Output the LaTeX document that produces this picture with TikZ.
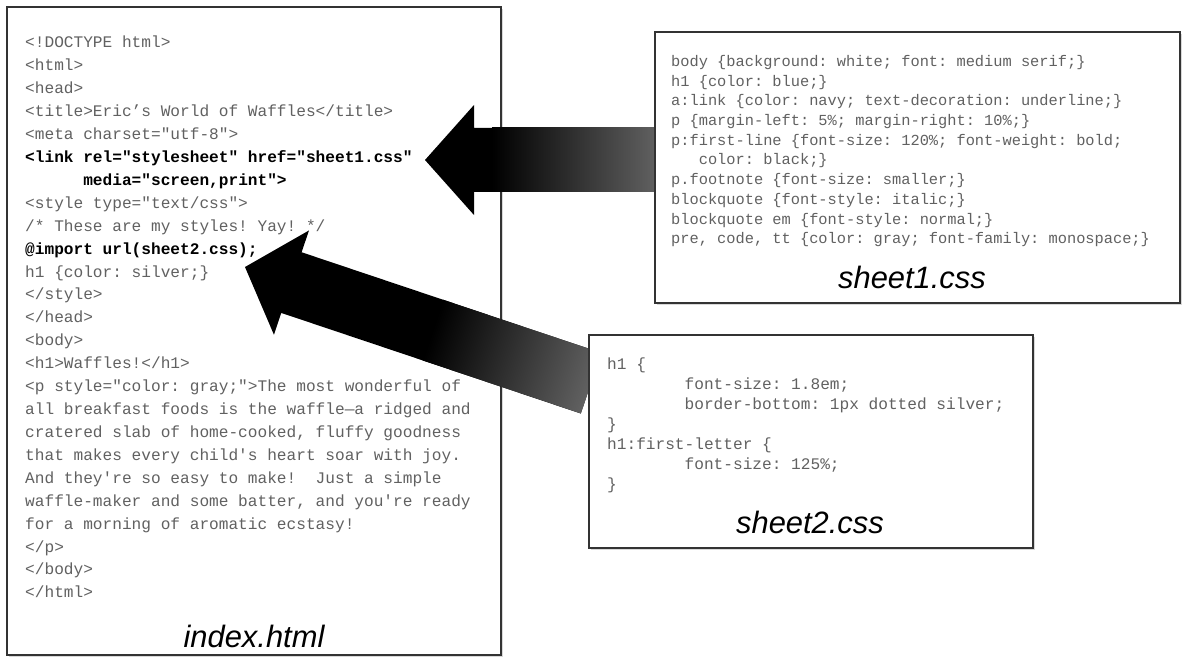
\documentclass[tikz,border=0pt]{standalone}
\usepackage{fontspec}
\setsansfont{Liberation Sans}
\setmonofont{Liberation Mono}
\usetikzlibrary{shadows}
\newcommand{\pad}[1]{\hspace*{#1\fontcharwd\font32}}

\begin{document}
\begin{tikzpicture}[x=1bp, y=-1bp,
		filebox/.style={draw=black!80, line width=1.5bp, fill=white, inner sep=0pt,
			drop shadow={shadow xshift=2bp, shadow yshift=-2bp, opacity=0.3}},
		codetext/.style={anchor=north west, inner sep=0pt, align=left, text=black!62},
		filename/.style={anchor=base, inner sep=0pt, font=\sffamily\itshape\fontsize{31}{31}\selectfont}]
			%%%%% START %%%%%
			
			\fill[white] (0,0) rectangle (1193,657);
			\useasboundingbox (0,0) rectangle (1193,657);
			
			% index.html
			\node[filebox, minimum width=494bp, minimum height=648bp] (indexbox) at (254,331) {};
			\node[codetext, font=\ttfamily\fontsize{16.2}{23}\selectfont] (indexcode) at (25,36) {%
				<!DOCTYPE html>\\
				<html>\\
				<head>\\
				<title>Eric’s World of Waffles</title>\\
				<meta charset="utf-8">\\
				{\color{black}\bfseries <link rel="stylesheet" href="sheet1.css"}\\
				{\color{black}\bfseries \pad{6}media="screen,print">}\\
				<style type="text/css">\\
				/* These are my styles! Yay! */\\
				{\color{black}\bfseries @import url(sheet2.css);}\\
				h1 \{color: silver;\}\\
				</style>\\
				</head>\\
				<body>\\
				<h1>Waffles!</h1>\\
				<p style="color: gray;">The most wonderful of\\
				all breakfast foods is the waffle—a ridged and\\
				cratered slab of home-cooked, fluffy goodness\\
				that makes every child's heart soar with joy.\\
				And they're so easy to make!\pad{2}Just a simple\\
				waffle-maker and some batter, and you're ready\\
				for a morning of aromatic ecstasy!\\
				</p>\\
				</body>\\
				</html>};
			\node[filename] (indextitle) at (254,647) {index.html};
			
			% big arrows
			\coordinate (tipone) at (425,160);
			\coordinate (tiptwo) at (245,267);
			
			\begin{scope}[transform canvas={shift={(tipone)}}]
				\fill[black] (0,0) -- (49,-55) -- (49,-32) -- (232,-32) -- (232,32) -- (49,32) -- (49,55) -- cycle;
				\shade[left color=black, right color=black!62] (67,-32) rectangle (232,32);
			\end{scope}
			
			\begin{scope}[transform canvas={shift={(tiptwo)}, rotate=-18.56}]
				\fill[black] (0,0) -- (49,-55) -- (49,-32) -- (365,-32) -- (365,32) -- (49,32) -- (49,55) -- cycle;
				\shade[left color=black, right color=black!62] (198,-32) rectangle (365,32);
			\end{scope}
			
			% sheet1.css
			\node[filebox, minimum width=525bp, minimum height=271bp] (sheetone) at (917.5,167.5) {};
			\node[codetext, font=\ttfamily\fontsize{15.4}{19.8}\selectfont] (sheetonecode) at (671,55) {%
				body \{background: white; font: medium serif;\}\\
				h1 \{color: blue;\}\\
				a:link \{color: navy; text-decoration: underline;\}\\
				p \{margin-left: 5\%; margin-right: 10\%;\}\\
				p:first-line \{font-size: 120\%; font-weight: bold;\\
				\pad{3}color: black;\}\\
				p.footnote \{font-size: smaller;\}\\
				blockquote \{font-style: italic;\}\\
				blockquote em \{font-style: normal;\}\\
				pre, code, tt \{color: gray; font-family: monospace;\}};
			\node[filename] (sheetonetitle) at (912,288) {sheet1.css};
			
			% sheet2.css
			\node[filebox, minimum width=444bp, minimum height=213bp] (sheettwo) at (811,441.5) {};
			\node[codetext, font=\ttfamily\fontsize{16.2}{20}\selectfont] (sheettwocode) at (607,358) {%
				h1 \{\\
				\pad{8}font-size: 1.8em;\\
				\pad{8}border-bottom: 1px dotted silver;\\
				\}\\
				h1:first-letter \{\\
				\pad{8}font-size: 125\%;\\
				\}};
			\node[filename] (sheettwotitle) at (810,533) {sheet2.css};
			
			%%%%% END %%%%%
		\end{tikzpicture}
\end{document}
